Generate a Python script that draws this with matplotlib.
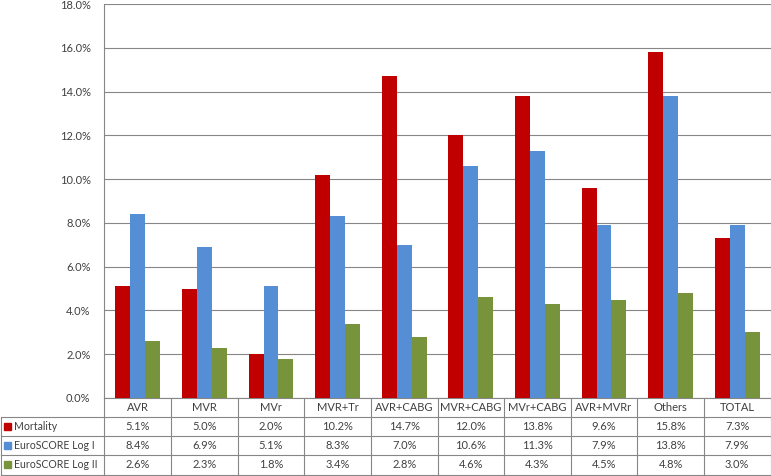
import matplotlib
matplotlib.use("Agg")
import matplotlib.pyplot as plt
import matplotlib.transforms as mtransforms
import numpy as np

categories = ["AVR", "MVR", "MVr", "MVR+Tr", "AVR+CABG", "MVR+CABG", "MVr+CABG", "AVR+MVRr", "Others", "TOTAL"]
mortality = [5.1, 5.0, 2.0, 10.2, 14.7, 12.0, 13.8, 9.6, 15.8, 7.3]
euro_log1 = [8.4, 6.9, 5.1, 8.3, 7.0, 10.6, 11.3, 7.9, 13.8, 7.9]
euro_log2 = [2.6, 2.3, 1.8, 3.4, 2.8, 4.6, 4.3, 4.5, 4.8, 3.0]
series_names = ["Mortality", "EuroSCORE Log I", "EuroSCORE Log II"]
colors = ["#C00000", "#558ED5", "#77933C"]
yticks = [0, 2, 4, 6, 8, 10, 12, 14, 16, 18]

plt.rcParams['font.family'] = ['Lato', 'DejaVu Sans']
FS = 8.0
FS_LEG = 7.6
TC = "#404040"
W, H = 771, 476
fig = plt.figure(figsize=(W / 100, H / 100), dpi=100)
left, right, top, bottom = 104.5, 770.5, 4, 398
ax = fig.add_axes([left / W, 1 - bottom / H, (right - left) / W, (bottom - top) / H])

n = len(categories)
x = np.arange(n)
bw = 0.225
series = [mortality, euro_log1, euro_log2]
for k, (vals, c) in enumerate(zip(series, colors)):
    ax.bar(x + (k - 1) * bw, vals, width=bw, color=c, zorder=3)

ax.set_xlim(-0.5, n - 0.5)
ax.set_ylim(0, 18)
ax.set_yticks(yticks)
ax.set_yticklabels([f"{v:.1f}%" for v in yticks], fontsize=FS, color=TC)
ax.tick_params(axis='y', length=0, pad=10)
ax.set_xticks([])
ax.grid(axis='y', color="#868686", linewidth=0.8, zorder=0)
for s in ["top", "right"]:
    ax.spines[s].set_visible(False)
for s in ["left", "bottom"]:
    ax.spines[s].set_color("#868686")
    ax.spines[s].set_linewidth(0.8)

# Data table below the axes
trans = mtransforms.blended_transform_factory(ax.transData, fig.transFigure)
ftrans = fig.transFigure

def fy(py):
    return 1 - py / H

row_lines = [398, 417, 436, 455, 474.5]
lc = "#868686"
lw = 0.8
for py in row_lines[1:]:
    fig.add_artist(plt.Line2D([0.5 / W, right / W], [fy(py), fy(py)], color=lc, lw=lw))
for i in range(n + 1):
    xv = i - 0.5
    ax.plot([xv, xv], [fy(398), fy(474.5)], transform=trans, color=lc, lw=lw, clip_on=False)
fig.add_artist(plt.Line2D([0.5 / W, 0.5 / W], [fy(417), fy(474.5)], color=lc, lw=lw))

for i, cat in enumerate(categories):
    ax.text(i, fy(407.5), cat, transform=trans, ha="center", va="center", fontsize=FS, color=TC)
for r, (vals, name, c) in enumerate(zip(series, series_names, colors)):
    yc = fy((row_lines[r + 1] + row_lines[r + 2]) / 2)
    for i, v in enumerate(vals):
        ax.text(i, yc, f"{v:.1f}%", transform=trans, ha="center", va="center", fontsize=FS, color=TC)
    fig.add_artist(plt.Rectangle((3.5 / W, yc - 3.5 / H), 7 / W, 7 / H, color=c, transform=ftrans))
    fig.text(14 / W, yc, name, ha="left", va="center", fontsize=FS_LEG, color=TC)

fig.savefig("out.png", dpi=100)
